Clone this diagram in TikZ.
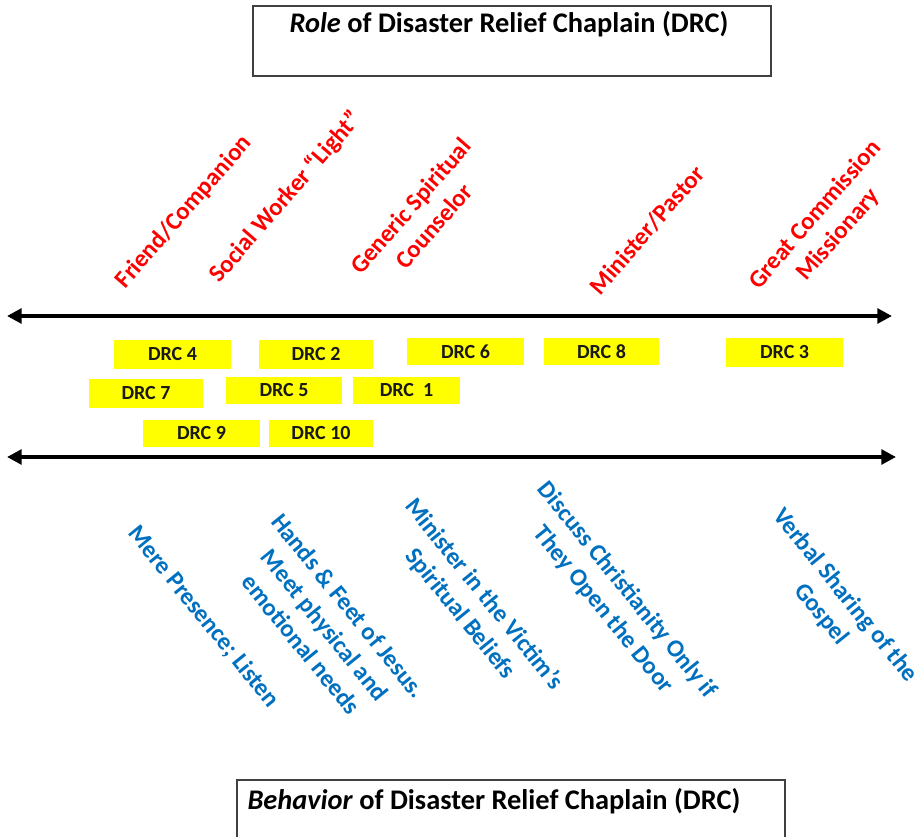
\documentclass[tikz,border=0pt]{standalone}
\usepackage{fontspec}
\setmainfont{Carlito}
\usetikzlibrary{arrows.meta}
\definecolor{rolered}{HTML}{FF0000}
\definecolor{behblue}{HTML}{0070C0}
\definecolor{hilite}{HTML}{FFFF00}
\definecolor{boxline}{HTML}{404040}
\tikzset{
  drcbox/.style={fill=hilite, inner sep=0pt, font=\fontsize{15}{18}\selectfont\bfseries, text=black!90},
  rolelabel/.style={rotate=49, align=center, text=rolered, inner sep=0pt, font=\fontsize{18.5}{23}\selectfont\bfseries},
  behlabel/.style={rotate=-51, align=center, text=behblue, inner sep=0pt, font=\fontsize{18.5}{23}\selectfont\bfseries},
  titletext/.style={inner sep=0pt, font=\fontsize{21.3}{25}\selectfont\bfseries},
  axis/.style={line width=3pt, {Triangle[length=11pt,width=11pt]}-{Triangle[length=11pt,width=11pt]}},
  frame/.style={draw=boxline, line width=1.5pt}
}
\begin{document}
\begin{tikzpicture}[x=0.75pt,y=-0.75pt]
\useasboundingbox[fill=white] (0,0) rectangle (919,837);
% top title box
\node[frame, minimum width=518*0.75pt, minimum height=70*0.75pt, inner sep=0pt] (rolebox) at (512,41) {};
\node[titletext] (roletitle) at (509,24) {\textit{Role} of Disaster Relief Chaplain (DRC)};
% bottom title box (cut by the page edge)
\coordinate (bl) at (237,840);
\coordinate (br) at (785,840);
\draw[frame] (bl) -- (237,780) -- (785,780) -- (br);
\node[titletext] (behtitle) at (494,801) {\textit{Behavior} of Disaster Relief Chaplain (DRC)};
% axes
\coordinate (topL) at (7,316);
\coordinate (topR) at (892,316);
\coordinate (botL) at (7,457);
\coordinate (botR) at (896,457);
\draw[axis] (topL) -- (topR);
\draw[axis] (botL) -- (botR);
% role labels
\node[rolelabel] (friend) at (184,212) {Friend/Companion};
\node[rolelabel] (social) at (286,197) {Social Worker ``Light''};
\node[rolelabel] (generic) at (422,216) {Generic Spiritual\\Counselor};
\node[rolelabel] (minister) at (647,230) {Minister/Pastor};
\node[rolelabel] (great) at (827,225) {Great Commission\\Missionary};
% DRC boxes
\node[drcbox, minimum width=117*0.75pt, minimum height=29*0.75pt] (d4) at (172.5,354.5) {DRC 4};
\node[drcbox, minimum width=114*0.75pt, minimum height=29*0.75pt] (d2) at (316,354.5) {DRC 2};
\node[drcbox, minimum width=117*0.75pt, minimum height=27*0.75pt] (d6) at (465.5,351.5) {DRC 6};
\node[drcbox, minimum width=115*0.75pt, minimum height=27*0.75pt] (d8) at (601.5,351.5) {DRC 8};
\node[drcbox, minimum width=117*0.75pt, minimum height=29*0.75pt] (d3) at (784.5,352.5) {DRC 3};
\node[drcbox, minimum width=114*0.75pt, minimum height=29*0.75pt] (d7) at (146,393.5) {DRC 7};
\node[drcbox, minimum width=116*0.75pt, minimum height=27*0.75pt] (d5) at (284,390.5) {DRC 5};
\node[drcbox, minimum width=107*0.75pt, minimum height=27*0.75pt] (d1) at (406.5,390.5) {DRC~~1};
\node[drcbox, minimum width=117*0.75pt, minimum height=27*0.75pt] (d9) at (201.5,433.5) {DRC 9};
\node[drcbox, minimum width=104*0.75pt, minimum height=27*0.75pt] (d10) at (321,433.5) {DRC 10};
% behavior labels
\node[behlabel] (mere) at (203.5,617) {Mere Presence; Listen};
\node[behlabel] (hands) at (325,625) {Hands \& Feet of Jesus.\\Meet physical and\\emotional needs};
\node[behlabel] (victim) at (472,604) {Minister in the Victim’s\\Spiritual Beliefs};
\node[behlabel] (discuss) at (615,600) {Discuss Christianity Only if\\They Open the Door};
\node[behlabel] (verbal) at (833,605) {Verbal Sharing of the\\Gospel};
\end{tikzpicture}
\end{document}
